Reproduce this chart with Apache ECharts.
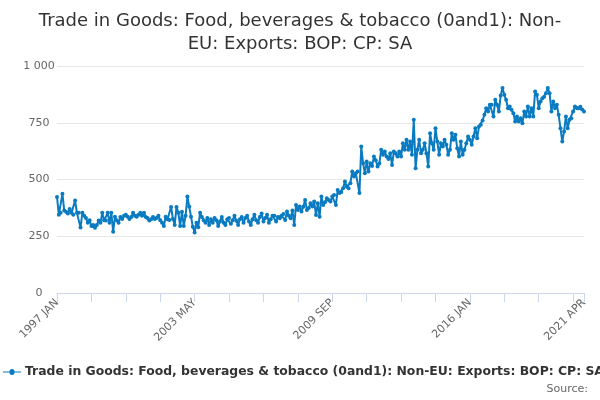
<!DOCTYPE html>
<html>
<head>
<meta charset="utf-8">
<script src="https://cdn.jsdelivr.net/npm/echarts@6/dist/echarts.min.js"></script>
<style>html,body{margin:0;padding:0;background:#fff}#c{width:600px;height:400px}</style>
</head>
<body>
<div id="c"></div>
<script>
var monthNames = ['JAN','FEB','MAR','APR','MAY','JUN','JUL','AUG','SEP','OCT','NOV','DEC'];
var firstYear = 1997, lastYear = 2021, lastMonthCount = 4;
var yTicks = [0, 250, 500, 750, 1000];

var v1997 = [423, 345, 353, 437, 363, 358, 350, 370, 353, 345, 407, 353];
var v1998 = [353, 288, 353, 340, 330, 309, 320, 295, 300, 287, 300, 319];
var v1999 = [310, 353, 320, 319, 353, 309, 353, 270, 336, 320, 309, 335];
var v2000 = [326, 340, 345, 336, 326, 335, 353, 340, 336, 345, 353, 340];
var v2001 = [354, 335, 330, 319, 325, 335, 326, 330, 340, 320, 310, 295];
var v2002 = [336, 325, 322, 379, 326, 300, 379, 353, 295, 358, 295, 340];
var v2003 = [425, 381, 336, 292, 266, 310, 290, 353, 335, 320, 309, 330];
var v2004 = [300, 325, 310, 330, 320, 295, 315, 335, 310, 300, 325, 330];
var v2005 = [305, 320, 340, 318, 300, 325, 335, 310, 330, 340, 315, 300];
var v2006 = [325, 345, 320, 310, 335, 350, 315, 330, 345, 310, 325, 340];
var v2007 = [340, 315, 335, 329, 340, 348, 322, 359, 340, 329, 363, 300];
var v2008 = [388, 366, 381, 359, 380, 410, 366, 375, 395, 381, 403, 344];
var v2009 = [395, 336, 425, 388, 400, 417, 410, 403, 425, 432, 388, 454];
var v2010 = [440, 445, 462, 491, 469, 462, 484, 535, 513, 528, 535, 440];
var v2011 = [645, 572, 528, 579, 535, 572, 560, 601, 585, 557, 570, 631];
var v2012 = [609, 623, 601, 590, 616, 564, 623, 616, 601, 623, 601, 660];
var v2013 = [631, 675, 631, 667, 609, 763, 550, 631, 675, 616, 631, 660];
var v2014 = [616, 557, 704, 660, 631, 726, 667, 609, 660, 645, 675, 653];
var v2015 = [609, 631, 704, 675, 697, 638, 601, 667, 609, 631, 660, 689];
var v2016 = [675, 653, 689, 726, 682, 733, 741, 760, 785, 814, 800, 829];
var v2017 = [829, 778, 851, 829, 800, 870, 903, 873, 851, 814, 822, 807];
var v2018 = [792, 755, 778, 755, 770, 748, 800, 778, 822, 778, 814, 778];
var v2019 = [888, 873, 814, 844, 858, 865, 880, 903, 880, 800, 844, 814];
var v2020 = [829, 785, 726, 667, 711, 778, 726, 763, 770, 800, 822, 815];
var v2021 = [814, 820, 808, 800];

var seriesName = 'Trade in Goods: Food, beverages & tobacco (0and1): Non-EU: Exports: BOP: CP: SA';

var values = [].concat(v1997, v1998, v1999, v2000, v2001, v2002, v2003, v2004, v2005,
  v2006, v2007, v2008, v2009, v2010, v2011, v2012, v2013, v2014, v2015, v2016,
  v2017, v2018, v2019, v2020, v2021);

var categories = [];
for (var y = firstYear; y <= lastYear; y++) {
  var n = (y === lastYear) ? lastMonthCount : 12;
  for (var m = 0; m < n; m++) categories.push(y + ' ' + monthNames[m]);
}
var lastIdx = categories.length - 1;

var chart = echarts.init(document.getElementById('c'), null, {renderer: 'canvas'});
chart.setOption({
  animation: false,
  backgroundColor: '#ffffff',
  title: {
    text: 'Trade in Goods: Food, beverages & tobacco (0and1): Non-\nEU: Exports: BOP: CP: SA',
    left: 'center',
    top: 5,
    textStyle: {fontFamily: 'DejaVu Sans', fontSize: 18, fontWeight: 'normal', color: '#333333', lineHeight: 23}
  },
  legend: {
    bottom: 17,
    left: -2,
    itemWidth: 18,
    itemHeight: 10,
    itemGap: 5,
    textStyle: {fontFamily: 'DejaVu Sans', fontSize: 12.4, fontWeight: 'bold', color: '#333333', padding: [0,0,0,-1]},
    data: [{name: seriesName, icon: 'path://M0,4.4L6.5,4.4A2.5,2.5 0 1 1 11.5,4.4L18,4.4L18,5.6L11.5,5.6A2.5,2.5 0 1 1 6.5,5.6L0,5.6Z'}]
  },
  graphic: [{
    type: 'text', right: 12, bottom: 5,
    style: {text: 'Source:', fontFamily: 'DejaVu Sans', fontSize: 11, fill: '#666666'}
  }],
  grid: {left: 57, right: 16, top: 66, bottom: 107},
  xAxis: {
    type: 'category',
    data: categories,
    boundaryGap: false,
    axisLine: {lineStyle: {color: '#ccd6eb', width: 1}},
    axisTick: {
      show: true, length: 9, alignWithLabel: true,
      interval: function (i) { return i % 19 === 0 || i === lastIdx; },
      lineStyle: {color: '#ccd6eb'}
    },
    axisLabel: {
      rotate: 45,
      fontFamily: 'DejaVu Sans', fontSize: 11, color: '#666666', margin: 8,
      interval: function (i) { return i % 76 === 0 || i === lastIdx; }
    },
    splitLine: {show: false}
  },
  yAxis: {
    type: 'value',
    min: yTicks[0],
    max: yTicks[yTicks.length - 1],
    interval: 250,
    axisLine: {show: false},
    axisTick: {show: false},
    axisLabel: {
      fontFamily: 'DejaVu Sans', fontSize: 11, color: '#666666', margin: 18, align: 'center',
      formatter: function (v) { return v >= 1000 ? String(v).replace(/(\d)(?=(\d{3})+$)/g, '$1 ') : String(v); }
    },
    splitLine: {lineStyle: {color: '#e6e6e6', width: 1}}
  },
  series: [{
    name: seriesName,
    type: 'line',
    data: values,
    symbol: 'circle',
    symbolSize: 4,
    showSymbol: true,
    showAllSymbol: true,
    lineStyle: {color: '#0a7bc1', width: 2},
    itemStyle: {color: '#0a7bc1'}
  }]
});
</script>
</body>
</html>
